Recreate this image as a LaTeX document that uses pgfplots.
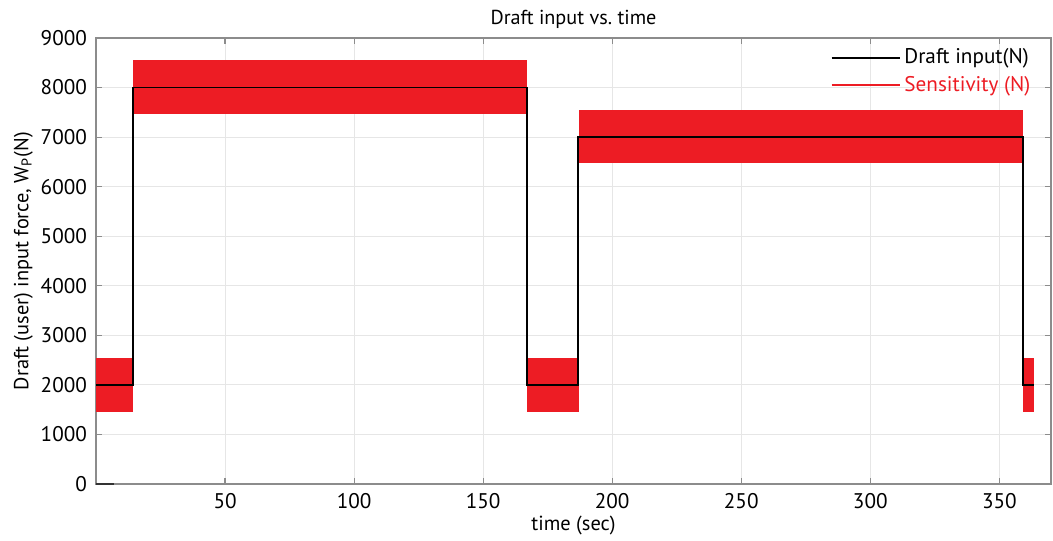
\documentclass[border=0pt]{standalone}
\usepackage{pgfplots}
\pgfplotsset{compat=1.18}
\usepackage{fontspec}
\setmainfont{PT Sans}
\definecolor{sred}{HTML}{ED1C24}
\definecolor{gridc}{HTML}{E6E6E6}
\definecolor{axc}{HTML}{8C8C8C}
\begin{document}
\begin{tikzpicture}
\begin{axis}[
  name=ax,
  scale only axis,
  width=477.5pt, height=223pt,
  xmin=0, xmax=370, ymin=0, ymax=9000,
  xtick={50,100,...,350},
  ytick={0,1000,...,9000},
  grid=major,
  major grid style={gridc, line width=0.5pt},
  axis line style={axc, line width=0.6pt},
  tick style={axc, line width=0.6pt},
  major tick length=3pt,
  tick align=inside,
  xtick pos=both, ytick pos=both,
  scaled y ticks=false,
  /pgf/number format/assume math mode=true,
  yticklabel={\pgfmathprintnumber[fixed,1000 sep={}]{\tick}},
  xticklabel={\pgfmathprintnumber[fixed,1000 sep={}]{\tick}},
  ticklabel style={font=\fontsize{10.6}{12}\selectfont, text=black},
  xticklabel style={yshift=-1pt},
  yticklabel style={xshift=-1pt},
  title={Draft input vs.\ time},
  title style={font=\fontsize{10.1}{12}\selectfont, yshift=-5pt},
  xlabel={time (sec)},
  xlabel style={font=\fontsize{10.2}{12}\selectfont, yshift=3pt},
  ylabel={Draft (user) input force, W$_{\mathrm{P}}$(N)},
  ylabel style={font=\fontsize{10.2}{12}\selectfont, yshift=-3pt},
  legend style={draw=none, fill=none, at={(0.985,0.99)}, anchor=north east,
    font=\fontsize{10.6}{12}\selectfont, row sep=0.5pt, inner sep=1pt},
  legend cell align=left,
  every axis legend/.append style={/tikz/every even column/.style={column sep=3pt}},
  legend image code/.code={\draw[mark repeat=2,mark phase=2,#1] plot coordinates {(0pt,0pt) (17pt,0pt) (34pt,0pt)};},
]
% sensitivity bands
\addplot[fill=sred, draw=none, forget plot] coordinates {(0,1460) (14.5,1460) (14.5,2550) (0,2550)} -- cycle;
\addplot[fill=sred, draw=none, forget plot] coordinates {(14.5,7470) (167,7470) (167,8550) (14.5,8550)} -- cycle;
\addplot[fill=sred, draw=none, forget plot] coordinates {(167,1460) (187,1460) (187,2550) (167,2550)} -- cycle;
\addplot[fill=sred, draw=none, forget plot] coordinates {(187,6470) (359,6470) (359,7550) (187,7550)} -- cycle;
\addplot[fill=sred, draw=none, forget plot] coordinates {(359,1460) (363.5,1460) (363.5,2550) (359,2550)} -- cycle;
% draft input
\addplot[black, line width=0.9pt] coordinates {
 (0,2000) (14.3,2000) (14.3,8000) (167,8000) (167,2000) (186.8,2000)
 (186.8,7000) (359,7000) (359,2000) (363.5,2000)};
\addlegendentry{Draft input(N)}
\addplot[black!80, line width=0.6pt, forget plot] coordinates {(0,0) (7,0)};
\addlegendimage{color=sred, draw=sred, line width=0.7pt}
\addlegendentry{\textcolor{sred}{Sensitivity (N)}}
\end{axis}
\pgfresetboundingbox
\path (ax.south west) ++(-48pt,-28pt) coordinate (bl);
\path (ax.north east) ++(1pt,19pt) coordinate (tr);
\path (bl) rectangle (tr);
\end{tikzpicture}
\end{document}
